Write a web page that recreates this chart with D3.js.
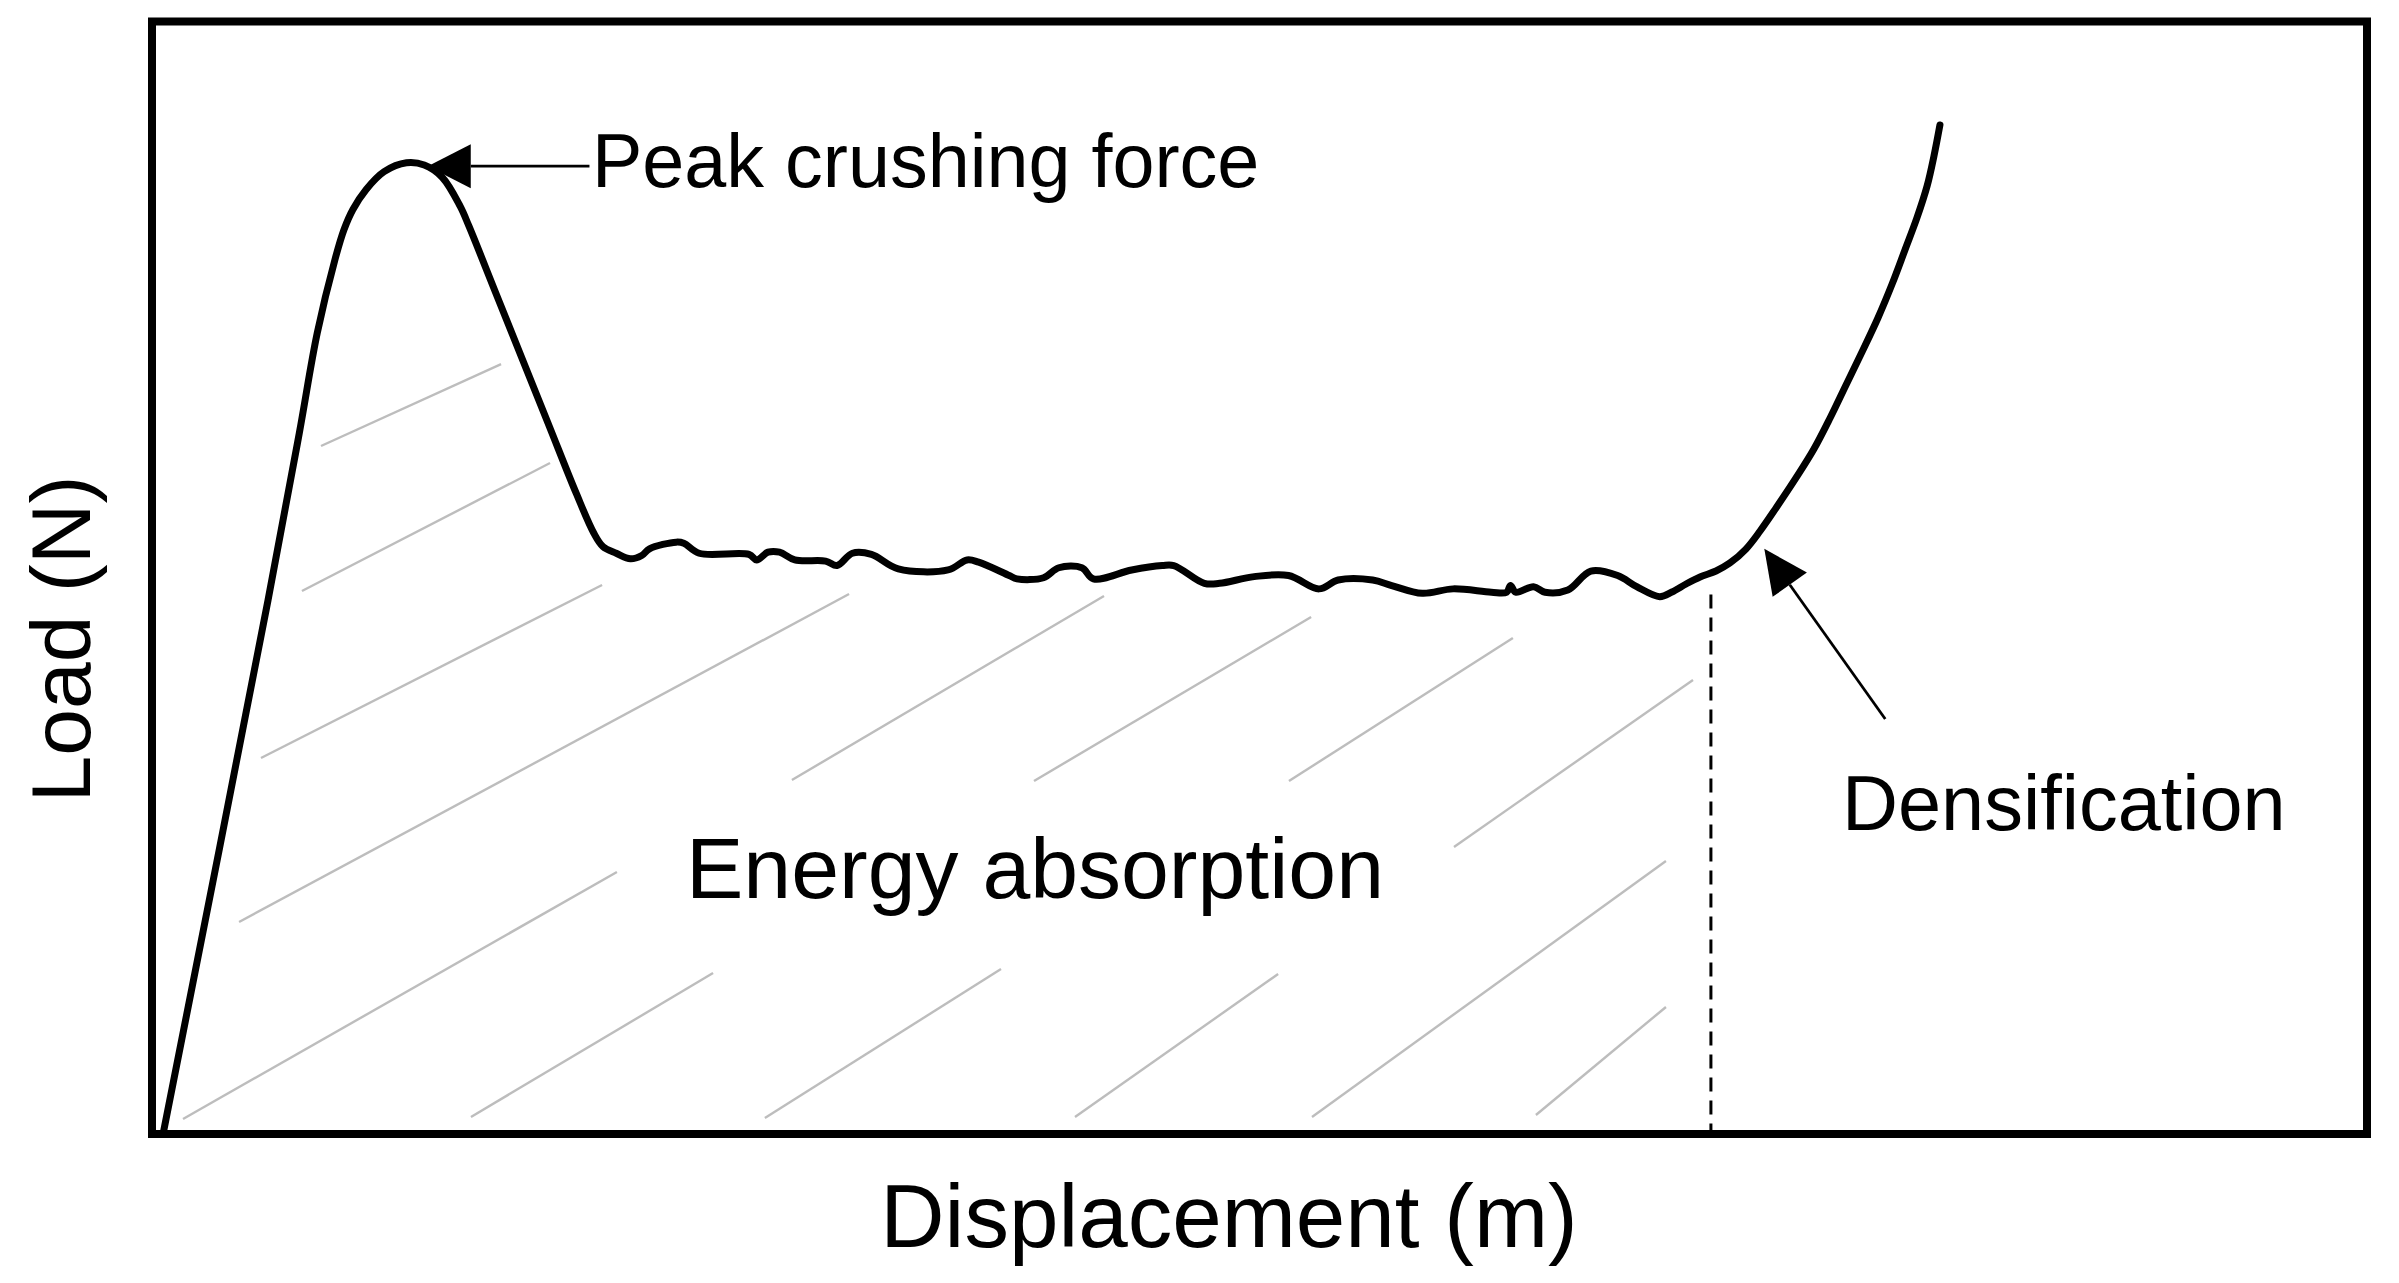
<!DOCTYPE html>
<html>
<head>
<meta charset="utf-8">
<script src="https://cdn.jsdelivr.net/npm/d3@7"></script>
<style>
  html, body { margin: 0; padding: 0; background: #fff; }
  svg { display: block; }
  text { font-family: "Liberation Sans", Arial, sans-serif; fill: #000; }
</style>
</head>
<body>
<script>
// ---- Data (displacement / load in arbitrary units, 0-100) ----
const displacement = [0.50, 5.24, 6.65, 7.46, 8.26, 8.67, 9.07, 9.67, 10.48, 11.49, 12.29, 13.10, 13.91, 14.31,
  15.52, 16.73, 17.94, 19.15, 19.95, 20.36, 20.96, 21.60, 22.11, 22.46, 23.67, 24.01, 24.70, 26.95, 27.30,
  27.81, 28.33, 29.02, 30.41, 30.93, 31.62, 32.48, 33.69, 35.94, 36.80, 37.32, 38.70, 39.05, 40.25, 40.94,
  41.98, 42.50, 44.23, 45.61, 46.13, 47.51, 48.20, 49.76, 51.31, 52.69, 53.55, 55.11, 55.97, 57.35, 58.74,
  60.47, 61.16, 61.33, 61.57, 62.37, 62.89, 63.92, 64.96, 66.17, 67.03, 68.07, 68.62, 69.26, 69.89, 70.61,
  71.24, 71.96, 72.60, 73.32, 74.22, 75.03, 75.76, 76.48, 77.20, 77.92, 78.56, 79.14, 79.68, 80.14, 80.45,
  80.72];
const load = [0.0, 48.0, 63.0, 72.0, 78.6, 81.3, 83.1, 84.9, 86.5, 87.3, 87.1, 86.0, 83.4, 81.6,
  75.6, 69.6, 63.6, 57.6, 54.0, 52.8, 52.2, 51.7, 52.0, 52.6, 53.2, 53.1, 52.2, 52.1, 51.6,
  52.3, 52.3, 51.6, 51.5, 51.1, 52.2, 52.1, 50.8, 50.7, 51.6, 51.4, 50.2, 49.9, 50.0, 50.9,
  50.9, 49.9, 50.7, 51.1, 51.1, 49.5, 49.5, 50.1, 50.2, 49.0, 49.8, 49.8, 49.3, 48.6, 49.0,
  48.7, 48.7, 49.3, 48.7, 49.2, 48.7, 48.9, 50.6, 50.2, 49.2, 48.3, 48.72, 49.44, 50.07, 50.61,
  51.33, 52.58, 54.20, 56.27, 58.97, 61.57, 64.36, 67.33, 70.29, 73.35, 76.40, 79.46, 82.34, 85.21, 87.91,
  90.70];

// hatch segments of the energy-absorption area (data units)
const hatchX1 = [7.63, 6.77, 4.92, 3.93, 28.89, 1.40, 14.40, 27.67, 39.82, 51.33, 58.78, 41.67, 52.37, 62.48];
const hatchY1 = [61.84, 48.81, 33.80, 19.06, 31.82, 1.35, 1.53, 1.44, 31.73, 31.73, 25.80, 1.53, 1.53, 1.71];
const hatchX2 = [15.76, 17.97, 20.32, 31.47, 42.98, 20.99, 25.33, 38.33, 52.33, 61.44, 69.57, 50.84, 68.35, 68.35];
const hatchY2 = [69.21, 60.31, 49.35, 48.54, 48.36, 23.55, 14.47, 14.83, 46.47, 44.58, 40.81, 14.38, 24.54, 11.42];

const densificationX = 70.38;           // dashed marker
const densificationTop = 48.5;

const labels = {
  x: "Displacement (m)",
  y: "Load (N)",
  peak: "Peak crushing force",
  dens: "Densification",
  energy: "Energy absorption"
};

// ---- Drawing ----
const W = 2399, H = 1283;
const frame = {left: 152, top: 21.5, right: 2367, bottom: 1134};

const svg = d3.select("body").append("svg").attr("width", W).attr("height", H);

const x = d3.scaleLinear().domain([0, 100]).range([frame.left, frame.right]);
const y = d3.scaleLinear().domain([0, 100]).range([frame.bottom, frame.top]);

// hatch
const hatch = hatchX1.map((d, i) => ({x1: d, y1: hatchY1[i], x2: hatchX2[i], y2: hatchY2[i]}));
svg.append("g").selectAll("line").data(hatch).join("line")
  .attr("x1", d => x(d.x1)).attr("y1", d => y(d.y1))
  .attr("x2", d => x(d.x2)).attr("y2", d => y(d.y2))
  .attr("stroke", "#bdbdbd").attr("stroke-width", 2.4);

// dashed densification marker
svg.append("line")
  .attr("x1", x(densificationX)).attr("x2", x(densificationX))
  .attr("y1", y(densificationTop)).attr("y2", y(0))
  .attr("stroke", "#000").attr("stroke-width", 3)
  .attr("stroke-dasharray", "14,9");

// curve
const pts = displacement.map((d, i) => [d, load[i]]);
const line = d3.line().x(d => x(d[0])).y(d => y(d[1])).curve(d3.curveCatmullRom.alpha(0.5));
svg.append("path").attr("d", line(pts))
  .attr("fill", "none").attr("stroke", "#000").attr("stroke-width", 7)
  .attr("stroke-linejoin", "round").attr("stroke-linecap", "round");

// frame
svg.append("rect")
  .attr("x", frame.left).attr("y", frame.top)
  .attr("width", frame.right - frame.left).attr("height", frame.bottom - frame.top)
  .attr("fill", "none").attr("stroke", "#000").attr("stroke-width", 8);

// arrow helper
function arrow(tx, ty, fx, fy, headLen, headHalf) {
  const ang = Math.atan2(fy - ty, fx - tx);
  const bx = tx + headLen * Math.cos(ang), by = ty + headLen * Math.sin(ang);
  svg.append("line").attr("x1", fx).attr("y1", fy).attr("x2", bx).attr("y2", by)
    .attr("stroke", "#000").attr("stroke-width", 2.8);
  const px = -Math.sin(ang) * headHalf, py = Math.cos(ang) * headHalf;
  svg.append("path")
    .attr("d", `M${tx},${ty}L${bx + px},${by + py}L${bx - px},${by - py}Z`)
    .attr("fill", "#000");
}

// peak arrow
arrow(x(12.45), y(87.0), x(19.75), y(87.0), 43, 22);
// densification arrow
arrow(x(72.79), y(52.6), x(78.25), y(37.3), 44, 21);

// annotations
svg.append("text").attr("x", 592).attr("y", 187).attr("font-size", 75.5).text(labels.peak);
svg.append("text").attr("x", 1842).attr("y", 830).attr("font-size", 77.5).text(labels.dens);
svg.append("text").attr("x", 686).attr("y", 898).attr("font-size", 86).text(labels.energy);

// axis titles
svg.append("text").attr("x", 1229).attr("y", 1247).attr("font-size", 89)
  .attr("text-anchor", "middle").text(labels.x);
svg.append("text").attr("transform", "translate(90,639) rotate(-90)")
  .attr("font-size", 84).attr("text-anchor", "middle").text(labels.y);
</script>
</body>
</html>
